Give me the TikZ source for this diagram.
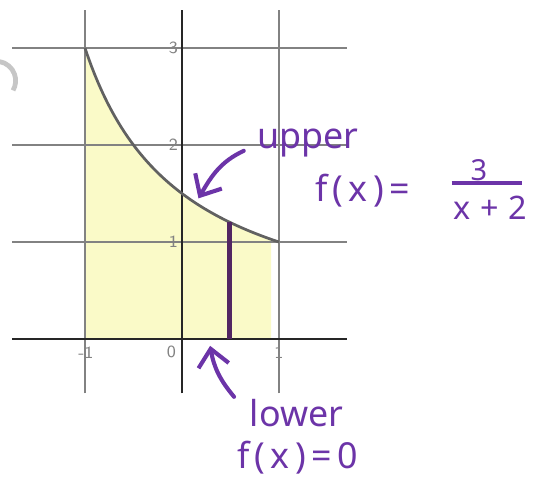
\documentclass[tikz,border=0pt]{standalone}
\usepackage{fontspec}
\newfontfamily\handfont{Noto Sans}
\usetikzlibrary{arrows.meta}

\definecolor{pen}{RGB}{108,52,168}
\definecolor{barcol}{RGB}{82,38,98}
\definecolor{hilite}{RGB}{250,250,200}
\definecolor{gridcol}{RGB}{130,130,130}

\begin{document}
\begin{tikzpicture}[
    hand/.style={text=pen, font=\handfont\fontsize{10.5}{12}\selectfont, inner sep=1pt},
    wide/.style={font=\handfont\fontsize{10.5}{12}\selectfont\addfontfeature{LetterSpace=15}},
    handarrow/.style={pen, line width=1.2pt, line cap=round, -{Straight Barb[length=5pt,width=9pt]}},
    ticklabel/.style={text=gridcol, font=\sffamily\fontsize{5}{6}\selectfont, inner sep=1pt},
    gridline/.style={gridcol, line width=0.5pt},
    axisline/.style={black!85, line width=0.65pt}
]
    \useasboundingbox (-1.876,-1.619) rectangle (3.639,3.495);

    % Area
    \fill[hilite] (-1,0) -- plot[domain=-1:0.92, samples=40] (\x,{3/(\x+2)}) -- (0.92,0) -- cycle;

    % Grade
    \foreach \y in {1,2,3}
        \draw[gridline] (-1.75,\y) -- (1.70,\y);
    \foreach \x in {-1,1}
        \draw[gridline] (\x,-0.56) -- (\x,3.39);

    % Eixos
    \draw[axisline] (-1.75,0) -- (1.70,0);
    \draw[axisline] (0,-0.56) -- (0,3.39);

    % Marcas
    \foreach \y in {1,2,3}
        \node[ticklabel, left] (ty\y) at (0,\y) {\y};
    \node[ticklabel] (txm) at (-0.99,-0.14) {-1};
    \node[ticklabel] (tx0) at (-0.11,-0.13) {0};
    \node[ticklabel] (txp) at (1.0,-0.14) {1};

    % Curva
    \draw[gridcol!75!black, line width=0.8pt]
        plot[domain=-1:1, samples=60] (\x,{3/(\x+2)});

    % Faixa
    \draw[barcol, line width=1.6pt] (0.49,0) -- (0.49,{3/2.49});

    % Marca da folha
    \draw[gray!45, line width=1.4pt] (-1.88,2.86) arc[start angle=80, end angle=-30, radius=0.2];

    % Textos
    \node[hand] (upper) at (1.30,2.02) {upper};
    \node[hand, wide] (fup) at (1.86,1.53) {f(x)=};
    \node[hand, font=\handfont\fontsize{8.5}{9}\selectfont] (fnum) at (3.06,1.74) {3};
    \node[hand, font=\handfont\fontsize{9.5}{11}\selectfont\addfontfeature{LetterSpace=30}] (fden) at (3.18,1.35) {x+2};
    \draw[pen, line width=1pt] (2.78,1.61) -- (3.50,1.61);
    \node[hand] (lower) at (1.18,-0.76) {lower};
    \node[hand, wide] (flow) at (1.19,-1.22) {f(x)=0};

    % Setas
    \coordinate (oncurve) at (0.17,1.45);
    \coordinate (onaxis) at (0.29,-0.07);
    \draw[handarrow] ([shift={(-0.1,-0.08)}]upper.west) to[out=205, in=60] (oncurve);
    \draw[handarrow] ([shift={(-0.12,-0.02)}]lower.north west) to[out=130, in=-80] (onaxis);
\end{tikzpicture}
\end{document}
